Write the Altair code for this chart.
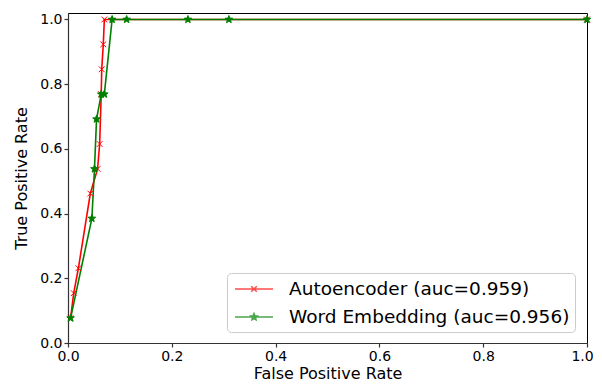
import math
import altair as alt
import pandas as pd

# ---- data ----
series_names = ["Autoencoder (auc=0.959)", "Word Embedding (auc=0.956)"]
ae_fpr = [0.005, 0.011, 0.020, 0.043, 0.057, 0.061, 0.064, 0.065, 0.068, 0.070, 1.0]
ae_tpr = [0.077, 0.154, 0.231, 0.462, 0.538, 0.615, 0.769, 0.846, 0.923, 1.0, 1.0]
we_fpr = [0.005, 0.046, 0.051, 0.055, 0.064, 0.070, 0.085, 0.113, 0.231, 0.310, 1.0]
we_tpr = [0.077, 0.385, 0.538, 0.692, 0.769, 0.769, 1.0, 1.0, 1.0, 1.0, 1.0]
colors = ["#ff0000", "#008000"]
tick_values = [0, 0.2, 0.4, 0.6, 0.8, 1.0]

rows = []
for name, xs, ys in [(series_names[0], ae_fpr, ae_tpr), (series_names[1], we_fpr, we_tpr)]:
    for i, (a, b) in enumerate(zip(xs, ys)):
        rows.append({"series": name, "fpr": a, "tpr": b, "idx": i})
df = pd.DataFrame(rows)

# ---- marker shapes (style) ----
def star_path(r_out, r_in, cx=0.0):
    pts = []
    for k in range(10):
        ang = math.radians(-90 + k * 36)
        r = r_out if k % 2 == 0 else r_in
        pts.append((cx + r * math.cos(ang), r * math.sin(ang)))
    return "M" + "L".join(f"{x:.3f},{y:.3f}" for x, y in pts) + "Z"

def x_path(h):
    return f"M{-h},{-h}L{h},{h}M{-h},{h}L{h},{-h}"

marker_shapes = [x_path(0.72), star_path(1, 0.42)]
legend_shapes = ["M-1.9,0L1.9,0" + x_path(0.28), "M-1.9,0L1.9,0" + star_path(0.34, 0.15)]

FONT = "DejaVu Sans"
xs = alt.Scale(domain=[0, 1], nice=False, zero=False)
ys = alt.Scale(domain=[0, 1.02], nice=False, zero=False)

x_enc = alt.X("fpr:Q", scale=xs, axis=alt.Axis(
    title="False Positive Rate", values=tick_values, format=".1f",
    labelOffset={"condition": {"test": "datum.value >= 1", "value": -5}, "value": 0},
))
y_enc = alt.Y("tpr:Q", scale=ys, axis=alt.Axis(title="True Positive Rate", values=tick_values, format=".1f"))

base = alt.Chart(df)

lines = base.mark_line(strokeWidth=1.6).encode(
    x=x_enc, y=y_enc,
    color=alt.Color("series:N", scale=alt.Scale(domain=series_names, range=colors), legend=None),
    order="idx:Q",
)

points = base.mark_point(filled=True, size=64, strokeWidth=1, opacity=1).encode(
    x=x_enc, y=y_enc,
    fill=alt.Fill("series:N", scale=alt.Scale(domain=series_names, range=colors), legend=None),
    stroke=alt.Stroke("series:N", scale=alt.Scale(domain=series_names, range=colors), legend=None),
    shape=alt.Shape("series:N", scale=alt.Scale(domain=series_names, range=marker_shapes), legend=None),
)

leg = alt.Legend(
    title=None, orient="none", legendX=159, legendY=260,
    labelFont=FONT, labelFontSize=18.5, labelColor="black", labelLimit=500,
    symbolSize=400, symbolStrokeWidth=1.5, symbolOffset=11, labelOffset=24,
    padding=5, rowPadding=7, cornerRadius=4,
    strokeColor="#cccccc", fillColor="rgba(255,255,255,0.8)",
)

legend_layer = base.transform_filter("datum.idx < 0").mark_point(filled=True).encode(
    x=x_enc, y=y_enc,
    fill=alt.Fill("series:N", scale=alt.Scale(domain=series_names, range=colors), legend=leg),
    stroke=alt.Stroke("series:N", scale=alt.Scale(domain=series_names, range=colors), legend=leg),
    shape=alt.Shape("series:N", scale=alt.Scale(domain=series_names, range=legend_shapes), legend=leg),
)

chart = alt.layer(lines, points, legend_layer).resolve_scale(
    fill="independent", stroke="independent", shape="independent"
).properties(
    width=519, height=330,
    padding={"left": 60, "top": 5, "right": 7, "bottom": 40},
    autosize=alt.AutoSizeParams(type="none"),
).configure_view(
    stroke="black", strokeWidth=1
).configure_axis(
    grid=False, domainColor="#333333", domainWidth=1.2, tickColor="#333333", tickWidth=1.2,
    tickSize=4, labelPadding=2, labelFont=FONT, labelFontSize=14, labelColor="black",
    titleFont=FONT, titleFontSize=16, titleFontWeight="normal", titleColor="black",
    labelFlush=False, labelOverlap=False,
).configure_axisX(titlePadding=2).configure_axisY(titlePadding=10)

chart.save("out.html", embed_options={"renderer": "svg", "actions": False})
